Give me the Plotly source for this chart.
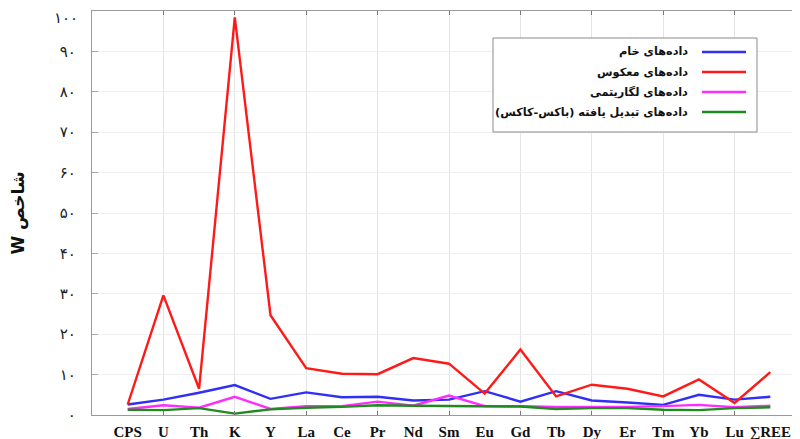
import plotly.graph_objects as go

categories = ["CPS", "U", "Th", "K", "Y", "La", "Ce", "Pr", "Nd", "Sm", "Eu",
              "Gd", "Tb", "Dy", "Er", "Tm", "Yb", "Lu", "∑REE"]

raw = [2.6, 3.8, 5.5, 7.4, 4.0, 5.6, 4.4, 4.5, 3.6, 3.8, 5.9,
       3.3, 5.9, 3.6, 3.1, 2.5, 5.0, 3.8, 4.5]
inverse = [2.6, 29.6, 6.5, 98.4, 24.7, 11.6, 10.2, 10.1, 14.1, 12.7, 5.3,
           16.2, 4.6, 7.5, 6.5, 4.6, 8.8, 3.0, 10.6]
logarithmic = [1.5, 2.4, 1.8, 4.5, 1.5, 2.2, 2.2, 3.3, 2.3, 4.8, 2.2,
               2.2, 2.0, 2.0, 2.0, 2.2, 2.5, 1.9, 2.3]
boxcox = [1.3, 1.2, 1.7, 0.35, 1.4, 1.8, 2.0, 2.4, 2.3, 2.2, 2.1,
          2.1, 1.5, 1.7, 1.7, 1.3, 1.2, 1.7, 1.9]

series_names = ["داده‌های خام", "داده‌های معکوس", "داده‌های لگاریتمی",
                "داده‌های تبدیل یافته (باکس-کاکس)"]
series_values = [raw, inverse, logarithmic, boxcox]
series_colors = ["#2f2ff5", "#ff1a1a", "#ff2cff", "#1f8a1f"]
# which x axis each series is attached to (x2 = overlay axis carrying labels)
series_axes = ["x", "x", "x", "x2"]

y_ticks = list(range(0, 101, 10))
y_ticktext = ["۰", "۱۰", "۲۰", "۳۰", "۴۰", "۵۰", "۶۰", "۷۰", "۸۰", "۹۰", "۱۰۰"]
y_title = "\u202bشاخص W\u202c"

xi = list(range(len(categories)))

fig = go.Figure()
for name, vals, col, ax in zip(series_names, series_values, series_colors,
                               series_axes):
    fig.add_trace(go.Scatter(x=xi, y=vals, mode="lines", name=name,
                             xaxis=ax, yaxis="y",
                             line=dict(color=col, width=2.4),
                             showlegend=False))

# the page has an 8px body margin; margins compensate for it
OFF = 8
L, T, B, R = 84, 3, 32, 0
FW, FH = 800, 439
PW, PH = FW - L - R, FH - T - B
xr = [-1.0, -1.0 + PW / 35.7]

fig.update_layout(
    width=FW, height=FH,
    margin=dict(l=L, r=R, t=T, b=B, autoexpand=False),
    paper_bgcolor="white", plot_bgcolor="white",
    xaxis=dict(range=xr, tickmode="array", tickvals=xi[1::2],
               showticklabels=False, ticks="inside", ticklen=4,
               tickcolor="#777", showgrid=True, gridcolor="#e4e4e4",
               gridwidth=1, showline=True, linecolor="#9a9a9a",
               linewidth=1.2, mirror="ticks", zeroline=False,
               automargin=False),
    xaxis2=dict(range=xr, overlaying="x", anchor="y", side="bottom",
                tickmode="array", tickvals=xi, ticktext=categories,
                showgrid=False, showline=False, ticks="", zeroline=False,
                ticklabelstandoff=6, automargin=False,
                tickfont=dict(family="Liberation Serif", size=15,
                              color="#111", weight="bold")),
    yaxis=dict(range=[0, 100], tickmode="array", tickvals=y_ticks,
               ticktext=y_ticktext, ticks="inside", ticklen=6,
               tickcolor="#aaa", showgrid=True, gridcolor="#efefef",
               gridwidth=1, showline=True, linecolor="#9a9a9a",
               linewidth=1.2, zeroline=False, ticklabelstandoff=12,
               automargin=False,
               tickfont=dict(family="DejaVu Sans", size=15, color="#222"),
               title=dict(text=y_title, standoff=30,
                          font=dict(family="DejaVu Sans", size=17,
                                    color="#111", weight="bold"))),
)

# top y label sits just below its tick in the reference (it would be cut off)
fig.add_annotation(xref="paper", yref="y", x=0, y=y_ticks[-1],
                   text=y_ticktext[-1], showarrow=False, xanchor="right",
                   yanchor="middle", xshift=-12, yshift=-7,
                   font=dict(family="DejaVu Sans", size=15, color="#222"))

# custom legend (symbols on the right, RTL text), positions in page pixels
def px(x):
    return (x - OFF - L) / PW
def py(y):
    return 1 - (y - OFF - T) / PH

lx0, lx1, ly0, ly1 = 493, 757, 38, 132
fig.add_shape(type="rect", xref="paper", yref="paper",
              x0=px(lx0), x1=px(lx1), y0=py(ly1), y1=py(ly0),
              line=dict(color="#8a8a8a", width=1), fillcolor="white",
              layer="above")
rows = [52, 72, 92, 112]
for name, col, ry in zip(series_names, series_colors, rows):
    fig.add_shape(type="line", xref="paper", yref="paper",
                  x0=px(702), x1=px(746), y0=py(ry), y1=py(ry),
                  line=dict(color=col, width=2.4), layer="above")
    fig.add_annotation(xref="paper", yref="paper", x=px(690), y=py(ry),
                       text=name, showarrow=False, xanchor="right",
                       yanchor="middle",
                       font=dict(family="DejaVu Sans", size=11.3,
                                 color="#111", weight="bold"))

fig.write_html("out.html")
